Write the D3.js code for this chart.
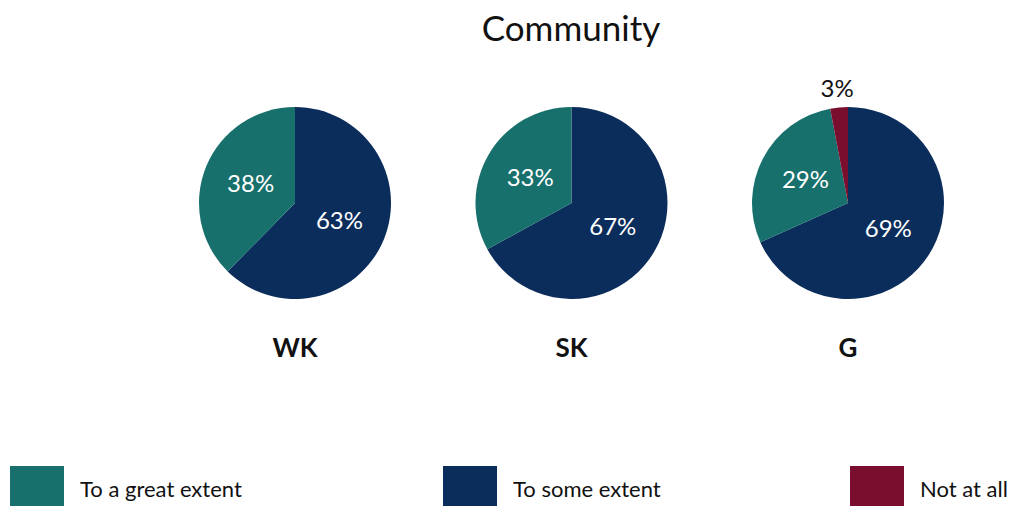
<!DOCTYPE html>
<html>
<head>
<meta charset="utf-8">
<script src="https://cdn.jsdelivr.net/npm/d3@7"></script>
<style>
  html, body { margin: 0; padding: 0; background: #fff; }
  svg { display: block; }
  text { font-family: "Lato", "Open Sans", sans-serif; }
</style>
</head>
<body>
<svg id="chart" width="1024" height="506"></svg>
<script>
// Survey response shares (percent) per group
const groups = ["WK", "SK", "G"];
const responses = ["To some extent", "To a great extent", "Not at all"];
const someExtent  = [63, 67, 69];
const greatExtent = [38, 33, 29];
const notAtAll    = [0, 0, 3];

const legendOrder = ["To a great extent", "To some extent", "Not at all"];
const colors = {
  "To a great extent": "#17706c",
  "To some extent": "#0b2d5b",
  "Not at all": "#7a0e2e"
};

const svg = d3.select("#chart");

svg.append("text")
  .attr("x", 571).attr("y", 41)
  .attr("text-anchor", "middle")
  .attr("font-size", 35)
  .attr("fill", "#111")
  .text("Community");

const R = 96;
const cx = d3.scalePoint().domain(groups).range([295, 848]);
const cy = 203;

const pie = d3.pie().sort(null).value(d => d.value);
const arc = d3.arc().innerRadius(0).outerRadius(R);
const labelArc = d3.arc().innerRadius(48).outerRadius(48);
const outerLabelArc = d3.arc().innerRadius(116).outerRadius(116);

groups.forEach((g, i) => {
  const rows = [
    { key: "To some extent", value: someExtent[i] },
    { key: "To a great extent", value: greatExtent[i] },
    { key: "Not at all", value: notAtAll[i] }
  ].filter(d => d.value > 0);

  const arcs = pie(rows);
  const gp = svg.append("g").attr("transform", `translate(${cx(g)},${cy})`);

  gp.selectAll("path").data(arcs).join("path")
    .attr("d", arc)
    .attr("fill", d => colors[d.data.key]);

  gp.selectAll("text.pct").data(arcs).join("text")
    .attr("class", "pct")
    .attr("transform", d => {
      const small = d.data.value < 5;
      const p = (small ? outerLabelArc : labelArc).centroid(d);
      return `translate(${p[0]},${p[1] - (small ? 0 : 2)})`;
    })
    .attr("text-anchor", "middle")
    .attr("dominant-baseline", "central")
    .attr("font-size", 24)
    .attr("fill", d => d.data.value < 5 ? "#111" : "#fff")
    .text(d => d.data.value + "%");

  svg.append("text")
    .attr("x", cx(g)).attr("y", 357)
    .attr("text-anchor", "middle")
    .attr("font-size", 26)
    .attr("font-weight", "bold")
    .attr("fill", "#111")
    .text(g);
});

// Legend along the bottom
const legendX = d3.scaleOrdinal().domain(legendOrder).range([10, 443, 850]);
const lg = svg.selectAll("g.legend").data(legendOrder).join("g")
  .attr("class", "legend")
  .attr("transform", d => `translate(${legendX(d)},466)`);
lg.append("rect")
  .attr("width", 54).attr("height", 44)
  .attr("fill", d => colors[d]);
lg.append("text")
  .attr("x", 70).attr("y", 22)
  .attr("dominant-baseline", "central")
  .attr("font-size", 22)
  .attr("fill", "#111")
  .text(d => d);
</script>
</body>
</html>
